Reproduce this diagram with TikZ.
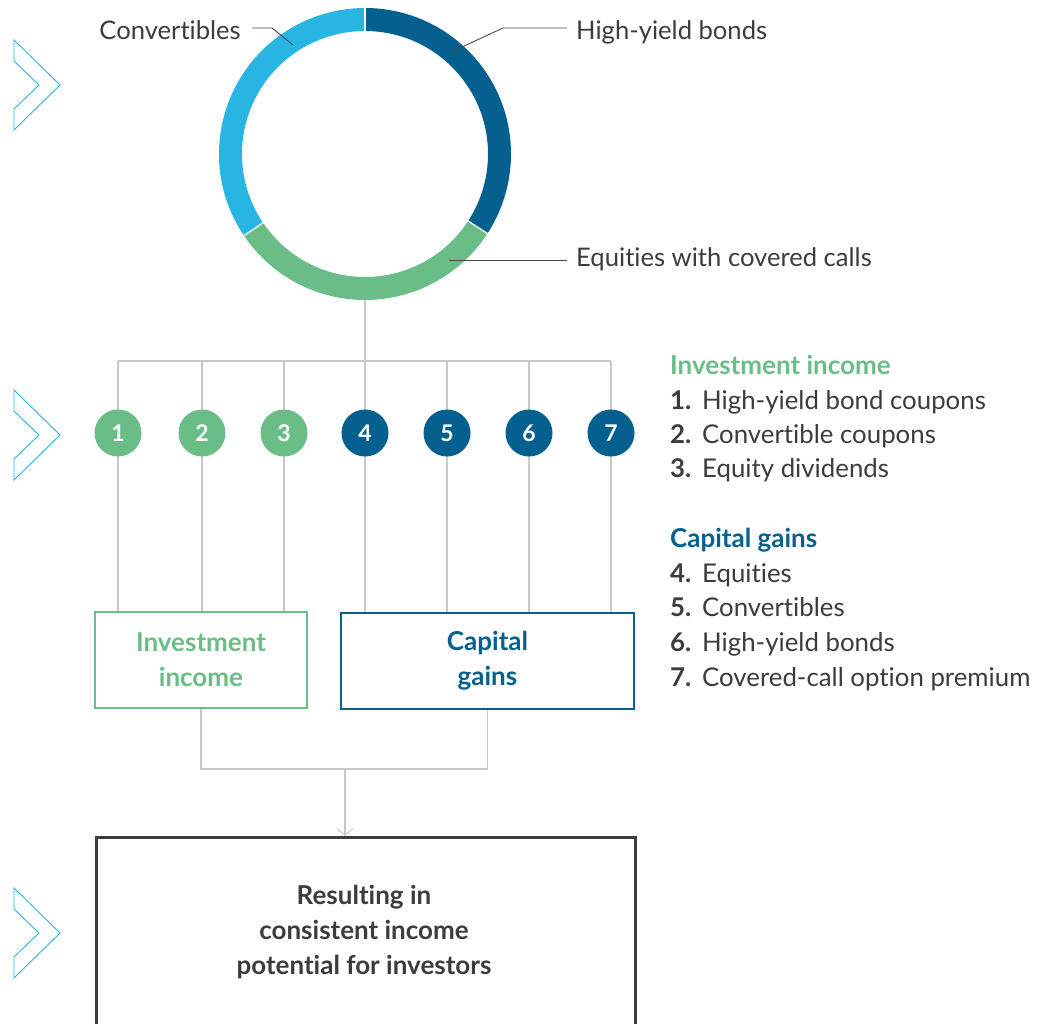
\documentclass[tikz,border=0pt]{standalone}
\usepackage{fontspec}
\setmainfont{Lato}[Ligatures={NoCommon,NoContextual}]
\usetikzlibrary{arrows.meta}
\definecolor{igreen}{HTML}{6BBD88}
\definecolor{idblue}{HTML}{03608F}
\definecolor{ilblue}{HTML}{29B5E3}
\definecolor{linegray}{HTML}{C8C8C8}
\definecolor{txtgray}{HTML}{3C3C3C}
\definecolor{leadgray}{HTML}{4A4A4A}
\begin{document}
\begin{tikzpicture}[x=1pt,y=-1pt,
  chev/.style={draw=ilblue,line width=0.9pt,line join=miter},
  conn/.style={draw=linegray,line width=1.1pt},
  leader/.style={draw=leadgray,line width=0.9pt},
  seg/.style={line width=23pt},
  lbl/.style={font=\fontsize{25.6}{30}\selectfont,text=txtgray,inner sep=0pt},
  numdot/.style={circle,minimum size=47pt,inner sep=0pt,text=white,font=\bfseries\fontsize{23}{26}\selectfont},
  srcbox/.style={draw,fill=white,line width=2pt,minimum width=#1,minimum height=96pt,align=center,inner sep=0pt,font=\bfseries\fontsize{26}{35}\selectfont},
  head/.style={font=\bfseries\fontsize{26}{30}\selectfont,inner sep=0pt,anchor=base west},
  item/.style={font=\fontsize{25.8}{30}\selectfont,text=txtgray,inner sep=0pt,anchor=base west},
  itemnum/.style={font=\bfseries\fontsize{25.8}{30}\selectfont,text=txtgray,inner sep=0pt,anchor=base west}
]
\useasboundingbox (0,0) rectangle (1055,1023);
\clip (0,0) rectangle (1055,1023);

% left-hand double chevrons
\foreach \cy in {85,435,933}
  \draw[chev] (14,\cy-45) -- (60,\cy) -- (14,\cy+45) -- (14,\cy+24) -- (39,\cy) -- (14,\cy-24) -- cycle;

% donut chart (y axis points down, so angles run clockwise)
\coordinate (dc) at (365,154);
\draw[seg,idblue] (dc) ++(-90:134.5) arc[start angle=-90,end angle=33,radius=134.5];
\draw[seg,igreen] (dc) ++(33:134.5) arc[start angle=33,end angle=146,radius=134.5];
\draw[seg,ilblue] (dc) ++(146:134.5) arc[start angle=146,end angle=270,radius=134.5];
\foreach \a in {-90,33,146}
  \draw[white,line width=1.3pt] (dc) ++(\a:122) -- ++(\a:25);
\coordinate (donutbot) at (365,300);

% segment labels with leader lines
\node[lbl,anchor=base east] (lconv) at (241,39) {Convertibles};
\node[lbl,anchor=base west] (lhy) at (576,39) {High-yield bonds};
\node[lbl,anchor=base west] (leq) at (576,266) {Equities with covered calls};
\coordinate (convA) at (252,28);
\coordinate (convB) at (272,28);
\coordinate (convC) at (293,45);
\coordinate (hyA) at (567,28);
\coordinate (hyB) at (503,28);
\coordinate (hyC) at (449,53);
\coordinate (eqA) at (567,260);
\coordinate (eqC) at (449,260);
\draw[leader] (convA) -- (convB) -- (convC);
\draw[leader] (hyA) -- (hyB) -- (hyC);
\draw[leader] (eqA) -- (eqC);

% distribution tree: trunk, bar and one drop per numbered source
\coordinate (split) at (365,361);
\draw[conn] (donutbot) -- (split);
\draw[conn] (118,361) -- (611,361);
\foreach \i/\x in {1/118,2/202,3/284,4/365,5/447,6/529,7/611}{
  \coordinate (top\i) at (\x,361);
  \coordinate (foot\i) at (\x,614);
  \draw[conn] (top\i) -- (foot\i);
}

\node[srcbox=212pt,draw=igreen,text=igreen] (inc) at (201,660) {Investment\\income};
\node[srcbox=293pt,draw=idblue,text=idblue] (cap) at (487.5,661) {Capital\\gains};

\foreach \i/\x/\c in {1/118/igreen,2/202/igreen,3/284/igreen,4/365/idblue,5/447/idblue,6/529/idblue,7/611/idblue}
  \node[numdot,fill=\c] (n\i) at (\x,433) {\i};

% merge into the result box
\coordinate (incfoot) at (inc.south |- 0,769);
\coordinate (capfoot) at (cap.south |- 0,769);
\coordinate (merge) at (345,769);
\draw[conn] (inc.south) -- (incfoot) -- (capfoot) -- (cap.south);
\node[draw=txtgray,line width=2.5pt,minimum width=539pt,minimum height=230pt,anchor=north west,inner sep=0pt] (res) at (95,836) {};
\draw[conn,-{Straight Barb[length=7pt,width=16pt,line width=1pt]}] (merge) -- (merge |- res.north);
\node[font=\bfseries\fontsize{26}{35}\selectfont,text=txtgray,align=center,inner sep=0pt] (restxt) at (364,932) {Resulting in\\consistent income\\potential for investors};

% legend
\node[head,text=igreen] (hinc) at (670,374) {Investment income};
\node[itemnum] (k1) at (670,409) {1.};
\node[item] (t1) at (702,409) {High-yield bond coupons};
\node[itemnum] (k2) at (670,443) {2.};
\node[item] (t2) at (702,443) {Convertible coupons};
\node[itemnum] (k3) at (670,477) {3.};
\node[item] (t3) at (702,477) {Equity dividends};
\node[head,text=idblue] (hcap) at (670,547) {Capital gains};
\node[itemnum] (k4) at (670,582) {4.};
\node[item] (t4) at (702,582) {Equities};
\node[itemnum] (k5) at (670,616) {5.};
\node[item] (t5) at (702,616) {Convertibles};
\node[itemnum] (k6) at (670,651) {6.};
\node[item] (t6) at (702,651) {High-yield bonds};
\node[itemnum] (k7) at (670,686) {7.};
\node[item] (t7) at (702,686) {Covered-call option premium};
\end{tikzpicture}
\end{document}
